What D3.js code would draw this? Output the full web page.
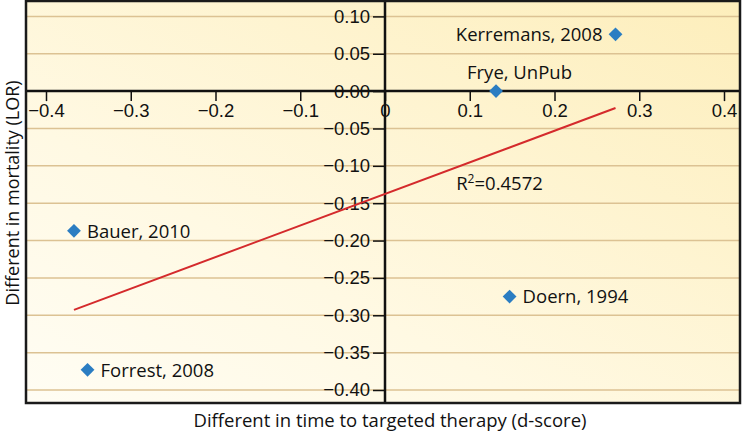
<!DOCTYPE html>
<html>
<head>
<meta charset="utf-8">
<script src="https://cdn.jsdelivr.net/npm/d3@7"></script>
<style>
  html, body { margin: 0; padding: 0; background: #ffffff; }
  svg { display: block; font-family: "Open Sans", "DejaVu Sans", sans-serif; }
</style>
</head>
<body>
<svg id="chart" width="742" height="435"></svg>
<script>
// ---- data ----
const studies = ["Kerremans, 2008", "Frye, UnPub", "Bauer, 2010", "Forrest, 2008", "Doern, 1994"];
const dScore  = [0.272, 0.131, -0.367, -0.351, 0.147];
const lor     = [0.076, 0.000, -0.187, -0.373, -0.275];
const labelSide = ["left", "above", "right", "right", "right"];
const xTicks = [-0.4, -0.3, -0.2, -0.1, 0, 0.1, 0.2, 0.3, 0.4];
const yTicks = [0.10, 0.05, 0.00, -0.05, -0.10, -0.15, -0.20, -0.25, -0.30, -0.35, -0.40];
const r2Label = "0.4572";
const r2Pos = [0.084, -0.132];
const xTitle = "Different in time to targeted therapy (d-score)";
const yTitle = "Different in mortality (LOR)";

// ---- layout ----
const FS = "18.5px";
const svg = d3.select("#chart");
const frame = {left: 26, top: 1, right: 740, bottom: 403};
const x = d3.scaleLinear().domain([-0.4, 0.4]).range([46, 724]);
const y = d3.scaleLinear().domain([0.1, -0.4]).range([16.4, 390]);
const minus = s => s.replace("-", "\u2212");

// background gradient
const defs = svg.append("defs");
const grad = defs.append("linearGradient").attr("id", "bg")
  .attr("x1", "0%").attr("y1", "100%").attr("x2", "100%").attr("y2", "0%");
grad.append("stop").attr("offset", "0%").attr("stop-color", "#fffdf4");
grad.append("stop").attr("offset", "35%").attr("stop-color", "#fff9e3");
grad.append("stop").attr("offset", "100%").attr("stop-color", "#fdeebb");

svg.append("rect")
  .attr("x", frame.left).attr("y", frame.top)
  .attr("width", frame.right - frame.left).attr("height", frame.bottom - frame.top)
  .attr("fill", "url(#bg)");

// horizontal gridlines
svg.append("g").selectAll("line").data(yTicks.filter(d => d !== 0)).join("line")
  .attr("x1", frame.left).attr("x2", frame.right)
  .attr("y1", d => y(d)).attr("y2", d => y(d))
  .attr("stroke", "#dcc293").attr("stroke-width", 1.5);

// x axis through y=0
const xAxis = d3.axisBottom(x).tickValues(xTicks).tickSize(10).tickPadding(3)
  .tickFormat(d => d === 0 ? "0" : minus(d3.format(".1f")(d)));
const gx = svg.append("g").attr("transform", `translate(0,${y(0)})`).call(xAxis);
gx.select(".domain").remove();
gx.append("line").attr("x1", frame.left).attr("x2", frame.right)
  .attr("stroke", "#111").attr("stroke-width", 2.5);
gx.selectAll(".tick line").attr("stroke", "#111").attr("stroke-width", 1.5);
gx.selectAll(".tick text").attr("fill", "#111").style("font-size", FS);

// y axis through x=0
const yAxis = d3.axisLeft(y).tickValues(yTicks).tickSize(12).tickPadding(3)
  .tickFormat(d => minus(d3.format(".2f")(d)));
const gy = svg.append("g").attr("transform", `translate(${x(0)},0)`).call(yAxis);
gy.select(".domain").remove();
gy.append("line").attr("y1", frame.top).attr("y2", frame.bottom)
  .attr("stroke", "#111").attr("stroke-width", 2.5);
gy.selectAll(".tick line").attr("stroke", "#111").attr("stroke-width", 1.5);
gy.selectAll(".tick text").attr("fill", "#111").style("font-size", FS);

// regression line (least squares)
const pts = dScore.map((d, i) => ({x: d, y: lor[i], name: studies[i], side: labelSide[i]}));
const mx = d3.mean(dScore), my = d3.mean(lor);
const sxy = d3.sum(pts, p => (p.x - mx) * (p.y - my));
const sxx = d3.sum(pts, p => (p.x - mx) ** 2);
const slope = sxy / sxx, icpt = my - slope * mx;
const [xmin, xmax] = d3.extent(dScore);
svg.append("path")
  .datum([xmin, xmax])
  .attr("d", d3.line().x(d => x(d)).y(d => y(icpt + slope * d)))
  .attr("stroke", "#d42a2c").attr("stroke-width", 2).attr("fill", "none");

// points
svg.append("g").selectAll("path").data(pts).join("path")
  .attr("d", d3.symbol(d3.symbolSquare, 95)())
  .attr("transform", d => `translate(${x(d.x)},${y(d.y)}) rotate(45)`)
  .attr("fill", "#2b7dc2");

// labels
svg.append("g").selectAll("text").data(pts).join("text")
  .attr("x", d => x(d.x) + (d.side === "left" ? -13 : d.side === "above" ? -29 : 13))
  .attr("y", d => y(d.y) + (d.side === "above" ? -12 : 6.8))
  .attr("text-anchor", d => d.side === "left" ? "end" : "start")
  .attr("fill", "#111").style("font-size", FS)
  .text(d => d.name);

// R^2 label
const r2 = svg.append("text").attr("x", x(r2Pos[0])).attr("y", y(r2Pos[1]))
  .attr("fill", "#111").style("font-size", FS);
r2.append("tspan").text("R");
r2.append("tspan").attr("dy", -7).style("font-size", "12px").text("2");
r2.append("tspan").attr("dy", 7).text("=" + r2Label);

// frame border
svg.append("rect")
  .attr("x", frame.left).attr("y", frame.top)
  .attr("width", frame.right - frame.left).attr("height", frame.bottom - frame.top)
  .attr("fill", "none").attr("stroke", "#1a1a1a").attr("stroke-width", 2.5);

// axis titles
svg.append("text").attr("x", 390).attr("y", 427).attr("text-anchor", "middle")
  .attr("fill", "#111").style("font-size", FS).text(xTitle);
svg.append("text").attr("transform", "translate(19,193) rotate(-90)")
  .attr("text-anchor", "middle").attr("fill", "#111").style("font-size", "18px").text(yTitle);
</script>
</body>
</html>
